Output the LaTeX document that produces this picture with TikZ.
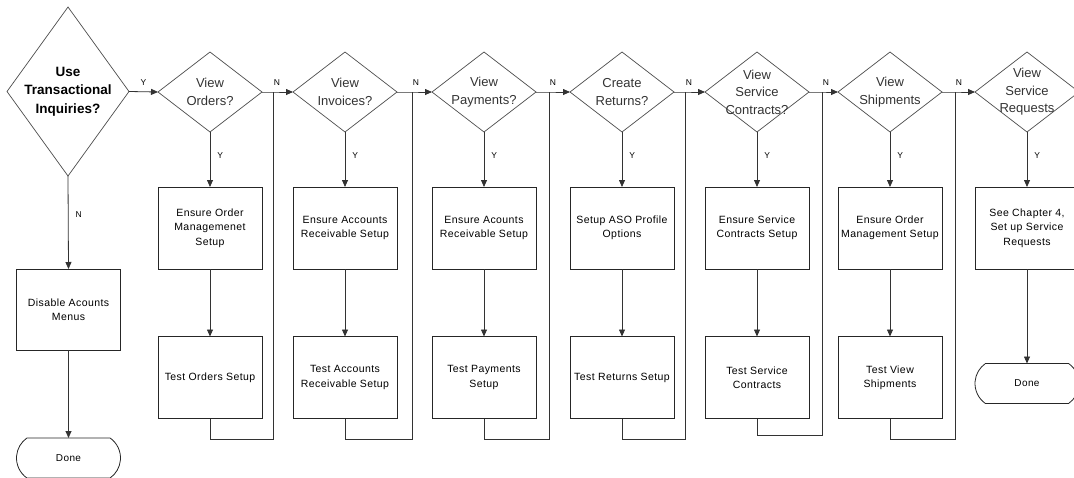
\documentclass[tikz,border=0pt]{standalone}
\usepackage{fontspec}
\setmainfont{Liberation Sans}
\newfontfamily\boxfont[LetterSpace=4]{Liberation Sans}
\usetikzlibrary{shapes.geometric,shapes.misc,arrows.meta}

\tikzset{
  conn/.style={draw=black!80,line width=0.8pt,-{Triangle[length=7pt,width=6pt]}},
  back/.style={draw=black!80,line width=0.8pt},
  bigdec/.style={diamond,draw=black!70,line width=0.7pt,minimum width=122pt,minimum height=169pt,inner sep=0pt,outer sep=0pt},
  dec/.style={diamond,draw=black!70,line width=0.7pt,minimum width=104pt,minimum height=80pt,inner sep=0pt,outer sep=0pt},
  dectext/.style={align=center,inner sep=0pt,font=\fontsize{13}{17.5}\selectfont,text=black!80},
  bigtext/.style={align=center,inner sep=0pt,font=\fontsize{13.5}{18.5}\selectfont\bfseries},
  act/.style={rectangle,draw=black!85,line width=0.8pt,minimum width=104pt,minimum height=82pt,inner sep=0pt,outer sep=0pt,align=center,font=\boxfont\fontsize{10.5}{14.3}\selectfont},
  term/.style={rounded rectangle,rounded rectangle arc length=110,draw=black!85,line width=0.8pt,minimum width=104pt,minimum height=40pt,inner sep=0pt,outer sep=0pt,font=\boxfont\fontsize{10}{12}\selectfont},
  yn/.style={font=\fontsize{8.5}{10}\selectfont,inner sep=1pt}
}

\begin{document}
\begin{tikzpicture}[x=1pt,y=-1pt]
\useasboundingbox (0,0) rectangle (1074,477);

\node[bigdec,label={[bigtext]center:{Use\\Transactional\\Inquiries?}}] (use) at (68,91.5) {};
\node[act,minimum height=81pt] (disable) at (68.5,309.5) {Disable Acounts\\Menus};
\node[term] (done1) at (68.5,458) {Done};

\node[dec,label={[dectext]center:{View\\Orders?}}] (orders) at (210,92) {};
\node[dec,label={[dectext]center:{View\\Invoices?}}] (invoices) at (345,92) {};
\node[dec,label={[dectext]center:{View\\Payments?}}] (payments) at (484,92) {};
\node[dec,label={[dectext]center:{Create\\Returns?}}] (returns) at (622,92) {};
\node[dec,label={[dectext]center:{View\\Service\\Contracts?}}] (contracts) at (757,92) {};
\node[dec,label={[dectext]center:{View\\Shipments}}] (shipments) at (890,92) {};
\node[dec,label={[dectext]center:{View\\Service\\Requests}}] (requests) at (1027,92) {};

\node[act] (ensorders) at (210,228) {Ensure Order\\Managemenet\\Setup};
\node[act] (ensinvoices) at (345,228) {Ensure Accounts\\Receivable Setup};
\node[act] (enspayments) at (484,228) {Ensure Acounts\\Receivable Setup};
\node[act] (ensreturns) at (622,228) {Setup ASO Profile\\Options};
\node[act] (enscontracts) at (757,228) {Ensure Service\\Contracts Setup};
\node[act] (ensshipments) at (890,228) {Ensure Order\\Management Setup};
\node[act] (seerequests) at (1027,228) {See Chapter 4,\\Set up Service\\Requests};

\node[act] (tstorders) at (210,377.5) {Test Orders Setup};
\node[act] (tstinvoices) at (345,377.5) {Test Accounts\\Receivable Setup};
\node[act] (tstpayments) at (484,377.5) {Test Payments\\Setup};
\node[act] (tstreturns) at (622,377.5) {Test Returns Setup};
\node[act] (tstcontracts) at (757,377.5) {Test Service\\Contracts};
\node[act] (tstshipments) at (890,377.5) {Test View\\Shipments};
\node[term] (done2) at (1027,383.5) {Done};

\coordinate (j1) at (273,92);
\coordinate (j2) at (412,92);
\coordinate (j3) at (549,92);
\coordinate (j4) at (685,92);
\coordinate (j5) at (822,92);
\coordinate (j6) at (955,92);
\coordinate (b1) at (210,439);
\coordinate (b2) at (345,439);
\coordinate (b3) at (484,439);
\coordinate (b4) at (622,439);
\coordinate (b5) at (757,435);
\coordinate (b6) at (890,439);

\draw[conn] (use.east) -- node[yn,above=5pt]{Y} (orders.west);
\draw[conn] (use.south) -- node[yn,right=6pt,pos=0.41]{N} (disable.north);
\draw[conn] (disable.south) -- (done1.north);

\draw[conn] (orders.east) -- (j1) node[yn,above=5pt,xshift=4pt]{N} -- (invoices.west);
\draw[conn] (invoices.east) -- (j2) node[yn,above=5pt,xshift=4pt]{N} -- (payments.west);
\draw[conn] (payments.east) -- (j3) node[yn,above=5pt,xshift=4pt]{N} -- (returns.west);
\draw[conn] (returns.east) -- (j4) node[yn,above=5pt,xshift=4pt]{N} -- (contracts.west);
\draw[conn] (contracts.east) -- (j5) node[yn,above=5pt,xshift=4pt]{N} -- (shipments.west);
\draw[conn] (shipments.east) -- (j6) node[yn,above=5pt,xshift=4pt]{N} -- (requests.west);

\foreach \q/\e/\t in {orders/ensorders/tstorders,invoices/ensinvoices/tstinvoices,payments/enspayments/tstpayments,returns/ensreturns/tstreturns,contracts/enscontracts/tstcontracts,shipments/ensshipments/tstshipments}{
  \draw[conn] (\q.south) -- node[yn,right=6pt,pos=0.42]{Y} (\e.north);
  \draw[conn] (\e.south) -- (\t.north);
}
\draw[conn] (requests.south) -- node[yn,right=6pt,pos=0.42]{Y} (seerequests.north);
\draw[conn] (seerequests.south) -- (done2.north);

\draw[back] (tstorders.south) -- (b1) -| (j1);
\draw[back] (tstinvoices.south) -- (b2) -| (j2);
\draw[back] (tstpayments.south) -- (b3) -| (j3);
\draw[back] (tstreturns.south) -- (b4) -| (j4);
\draw[back] (tstcontracts.south) -- (b5) -| (j5);
\draw[back] (tstshipments.south) -- (b6) -| (j6);
\end{tikzpicture}
\end{document}
